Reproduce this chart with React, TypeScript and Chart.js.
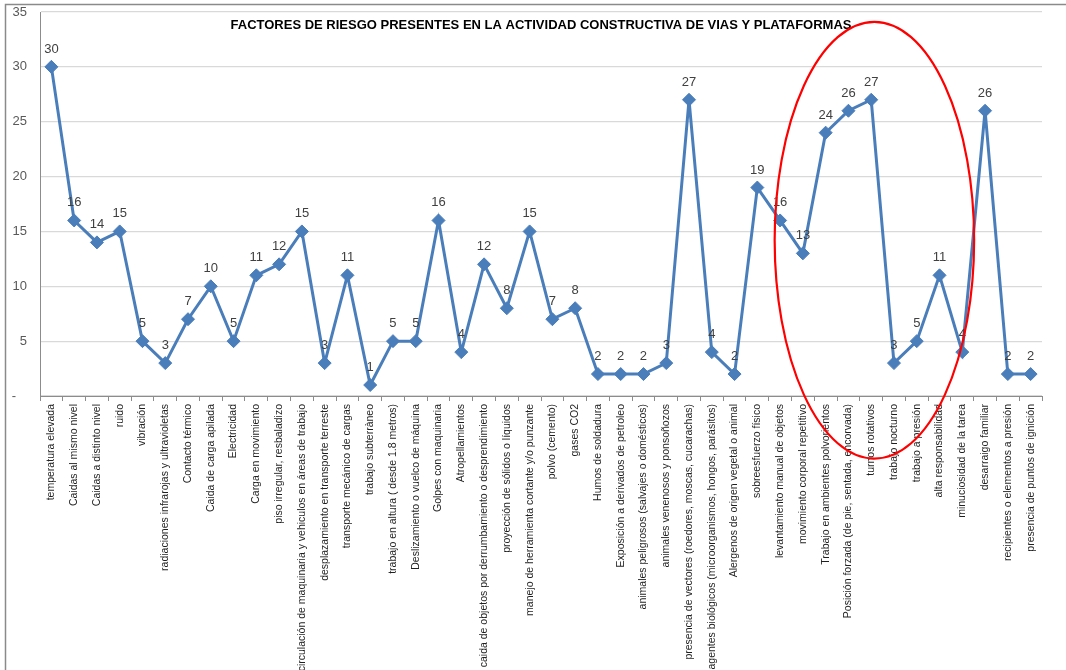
import { useEffect, useRef } from 'react';
import { Chart, registerables } from 'chart.js';

Chart.register(...registerables);

const chartTitle = 'FACTORES DE RIESGO PRESENTES EN LA ACTIVIDAD CONSTRUCTIVA DE VIAS Y PLATAFORMAS';

const categories = [
  'temperatura elevada',
  'Caidas al mismo nivel',
  'Caidas a distinto nivel',
  'ruido',
  'vibración',
  'radiaciones infrarojas y ultravioletas',
  'Contacto térmico',
  'Caida de carga apilada',
  'Electricidad',
  'Carga en movimiento',
  'piso irregular, resbaladizo',
  'circulación de maquinaria y vehiculos en áreas de trabajo',
  'desplazamiento en transporte terreste',
  'transporte mecánico de cargas',
  'trabajo subterràneo',
  'trabajo en altura ( desde 1.8 metros)',
  'Deslizamiento o vuelco de máquina',
  'Golpes con maquinaria',
  'Atropellamientos',
  'caida de objetos por derrumbamiento o desprendimiento',
  'proyección de sólidos o líquidos',
  'manejo de herramienta cortante y/o punzante',
  'polvo (cemento)',
  'gases CO2',
  'Humos de soldadura',
  'Exposición a derivados de petroleo',
  'animales peligrosos (salvajes o domésticos)',
  'animales venenosos y ponsoñozos',
  'presencia de vectores (roedores, moscas, cucarachas)',
  'agentes biológicos (microorganismos, hongos, parásitos)',
  'Alergenos de origen vegetal o animal',
  'sobreesfuerzo físico',
  'levantamiento manual de objetos',
  'movimiento corporal repetitivo',
  'Trabajo en ambientes polvorientos',
  'Posición forzada (de pie, sentada, encorvada)',
  'turnos rotativos',
  'trabajo nocturno',
  'trabajo a presión',
  'alta responsabilidad',
  'minuciosidad de la tarea',
  'desarraigo familiar',
  'recipientes o elementos a presión',
  'presencia de puntos de ignición',
];

const riskCounts = [
  30, 16, 14, 15, 5, 3, 7, 10, 5, 11,
  12, 15, 3, 11, 1, 5, 5, 16, 4, 12,
  8, 15, 7, 8, 2, 2, 2, 3, 27, 4,
  2, 19, 16, 13, 24, 26, 27, 3, 5, 11,
  4, 26, 2, 2,
];

const yMin = 0;
const yMax = 35;
const yStep = 5;

// Highlighted group: ellipse centre (category index, value) and radii (categories, value units)
const highlightCenter = [36.14, 14.2];
const highlightRadius = [4.38, 19.9];

const LINE_BLUE = '#4a7ebb';
const AXIS_GRAY = '#8c8c8c';
const GRID_GRAY = '#d9d9d9';

const decorPlugin = {
  id: 'decor',
  beforeDraw(chart: Chart) {
    const ctx = chart.ctx;
    ctx.save();
    ctx.fillStyle = '#ffffff';
    ctx.fillRect(0, 0, chart.width, chart.height);
    ctx.strokeStyle = '#8a8a8a';
    ctx.lineWidth = 1.5;
    ctx.strokeRect(5.5, 4.5, chart.width + 20, chart.height + 20);
    ctx.restore();
  },
  afterDatasetsDraw(chart: Chart) {
    const ctx = chart.ctx;
    const meta = chart.getDatasetMeta(0);
    ctx.save();
    ctx.font = '13px "Liberation Sans", Arial, sans-serif';
    ctx.fillStyle = '#404040';
    ctx.textAlign = 'center';
    ctx.textBaseline = 'alphabetic';
    meta.data.forEach((pt: any, i: number) => {
      ctx.fillText(String(riskCounts[i]), pt.x, pt.y - 14);
    });
    ctx.restore();
  },
  afterDraw(chart: Chart) {
    const ctx = chart.ctx;
    const area = chart.chartArea;
    const ys: any = chart.scales.y;
    ctx.save();
    // title
    ctx.font = 'bold 13px "Liberation Sans", Arial, sans-serif';
    ctx.fillStyle = '#000000';
    ctx.textAlign = 'center';
    ctx.textBaseline = 'middle';
    ctx.fillText(chartTitle, (area.left + area.right) / 2, 25);

    // highlight ellipse
    const catW = (area.right - area.left) / categories.length;
    const cx = area.left + (highlightCenter[0] + 0.5) * catW;
    const cy = ys.getPixelForValue(highlightCenter[1]);
    const rx = highlightRadius[0] * catW;
    const ry = Math.abs(ys.getPixelForValue(0) - ys.getPixelForValue(highlightRadius[1]));
    ctx.beginPath();
    ctx.ellipse(cx, cy, rx, ry, 0, 0, Math.PI * 2);
    ctx.strokeStyle = '#ff0000';
    ctx.lineWidth = 2.2;
    ctx.stroke();
    ctx.restore();
  },
};

export default function App() {
  const canvasRef = useRef<HTMLCanvasElement | null>(null);

  useEffect(() => {
    const canvas = canvasRef.current;
    if (!canvas) return;
    const chart = new Chart(canvas, {
      type: 'line',
      data: {
        labels: categories,
        datasets: [
          {
            data: riskCounts,
            borderColor: LINE_BLUE,
            backgroundColor: LINE_BLUE,
            borderWidth: 3,
            pointStyle: 'rectRot',
            pointRadius: 6.5,
            pointBorderWidth: 1,
            pointBackgroundColor: LINE_BLUE,
            pointBorderColor: LINE_BLUE,
            tension: 0,
            fill: false,
          },
        ],
      },
      options: {
        responsive: false,
        animation: false,
        devicePixelRatio: 1,
        layout: { padding: { top: 12, right: 24, left: 0, bottom: 0 } },
        plugins: {
          legend: { display: false },
          title: { display: false },
          tooltip: { enabled: false },
        },
        scales: {
          x: {
            type: 'category',
            offset: true,
            grid: {
              offset: true,
              drawOnChartArea: false,
              drawTicks: true,
              tickLength: 5,
              color: AXIS_GRAY,
            },
            border: { color: AXIS_GRAY, width: 1 },
            ticks: {
              autoSkip: false,
              maxRotation: 90,
              minRotation: 90,
              padding: 3,
              color: '#1f1f1f',
              font: { family: '"Liberation Sans", Arial, sans-serif', size: 10.5 },
            },
            afterFit: (scale: any) => {
              scale.height = 274;
              scale.paddingLeft = 0;
              scale.paddingRight = 0;
              scale.paddingTop = 0;
              scale.paddingBottom = 0;
            },
          },
          y: {
            min: yMin,
            max: yMax,
            ticks: {
              stepSize: yStep,
              padding: 13,
              color: '#595959',
              font: { family: '"Liberation Sans", Arial, sans-serif', size: 13 },
              callback: (v: any) => (Number(v) === 0 ? '-   ' : String(v)),
            },
            grid: { color: GRID_GRAY, lineWidth: 1.2, drawTicks: false },
            border: { color: AXIS_GRAY, width: 1 },
            afterFit: (scale: any) => {
              scale.width = 40;
              scale.paddingTop = 0;
              scale.paddingBottom = 0;
              scale.paddingLeft = 0;
              scale.paddingRight = 0;
            },
          },
        },
      },
      plugins: [decorPlugin],
    });
    return () => chart.destroy();
  }, []);

  return (
    <div style={{ position: 'absolute', left: 0, top: 0, width: 1066, height: 670, background: '#fff' }}>
      <canvas ref={canvasRef} width={1066} height={670} style={{ display: 'block' }} />
    </div>
  );
}
